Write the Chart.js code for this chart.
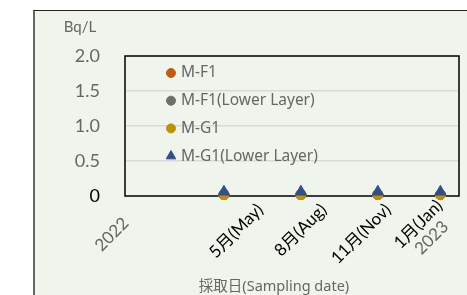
<!DOCTYPE html>
<html>
<head>
<meta charset="utf-8">
<script src="https://cdn.jsdelivr.net/npm/chart.js@4.4.0/dist/chart.umd.min.js"></script>
<style>
  html, body { margin: 0; padding: 0; background: #fff; }
  #card {
    position: absolute; left: 33px; top: 10px; width: 440px; height: 300px;
    background: #eff4ec; border-left: 2px solid #666; border-top: 1px solid #222;
  }
  #wrap { position: absolute; left: 0; top: 0; width: 467px; height: 295px; }
</style>
</head>
<body>
<div id="card"></div>
<div id="wrap"><canvas id="chart" width="467" height="295"></canvas></div>
<script>
// 採取日 (2022/1/1 からの日数, 目安)
const sampleDays = [135, 226, 317, 391];

const seriesNames = ['M-F1', 'M-F1(Lower Layer)', 'M-G1', 'M-G1(Lower Layer)'];
const mF1 = [0.02, 0.02, 0.02, 0.02];
const mF1Lower = [0.02, 0.02, 0.02, 0.02];
const mG1 = [0.02, 0.02, 0.02, 0.02];
const mG1Lower = [0.06, 0.06, 0.06, 0.06];

// 横軸の目盛
const tickDays = [3, 178, 253, 329, 390];
const tickMonths = ['', '5月(May)', '8月(Aug)', '11月(Nov)', '1月(Jan)'];
const tickYears = ['2022', '', '', '', '2023'];

const yTicks = [0, 0.5, 1.0, 1.5, 2.0];

const fontFamily = 'Lato, "Noto Sans CJK JP", sans-serif';
const wideFont = '"Noto Sans", "Noto Sans CJK JP", sans-serif';
const grayText = '#666666';

function toPoints(values) {
    return values.map((v, i) => ({ x: sampleDays[i], y: v }));
}

// 凡例・軸ラベル・枠線
const extras = {
    id: 'extras',
    beforeDatasetsDraw(chart) {
        const ctx = chart.ctx;
        const area = chart.chartArea;
        ctx.save();
        ctx.strokeStyle = '#000';
        ctx.lineWidth = 1.5;
        ctx.strokeRect(area.left, area.top, area.right - area.left, area.bottom - area.top);
        ctx.restore();
    },
    afterDatasetsDraw(chart) {
        const ctx = chart.ctx;
        const area = chart.chartArea;
        const xScale = chart.scales.x;
        ctx.save();

        // 凡例
        ctx.textBaseline = 'middle';
        ctx.textAlign = 'left';
        ctx.font = '15.5px ' + wideFont;
        chart.data.datasets.forEach((ds, i) => {
            const y = area.top + 17 + i * 27.7;
            const x = area.left + 46;
            ctx.fillStyle = ds.backgroundColor;
            ctx.strokeStyle = ds.borderColor;
            Chart.helpers.drawPoint(ctx, {
                pointStyle: ds.pointStyle,
                radius: ds.pointStyle === 'triangle' ? 5.5 : 4.5,
                rotation: 0,
                borderWidth: 1
            }, x, y);
            ctx.fillStyle = grayText;
            ctx.fillText(ds.label, x + 10, y);
        });

        // 横軸ラベル (斜め)
        tickDays.forEach((d, i) => {
            const px = xScale.getPixelForValue(d);
            const twoLines = tickMonths[i] && tickYears[i];
            const py = area.bottom + 11 - (twoLines ? 4 : 0);
            ctx.save();
            ctx.translate(px, py);
            ctx.rotate(-Math.PI / 4);
            ctx.textBaseline = 'middle';
            let w = 0;
            if (tickMonths[i]) {
                ctx.font = '17px ' + fontFamily;
                ctx.fillStyle = '#000';
                ctx.textAlign = 'right';
                ctx.fillText(tickMonths[i], 0, 0);
                w = ctx.measureText(tickMonths[i]).width;
            }
            if (tickYears[i]) {
                ctx.font = '17px ' + fontFamily;
                ctx.fillStyle = grayText;
                if (w) {
                    ctx.textAlign = 'center';
                    ctx.fillText(tickYears[i], -w / 2, 19);
                } else {
                    ctx.textAlign = 'right';
                    ctx.fillText(tickYears[i], 0, 19);
                }
            }
            ctx.restore();
        });

        // 単位
        ctx.font = '15px ' + fontFamily;
        ctx.fillStyle = grayText;
        ctx.textAlign = 'center';
        ctx.fillText('Bq/L', area.left - 45, area.top - 29);

        // 横軸タイトル
        ctx.font = '14.5px ' + wideFont;
        ctx.fillText('採取日(Sampling date)', area.left + 149, area.bottom + 91);

        ctx.restore();
    }
};

const ctx = document.getElementById('chart').getContext('2d');
const chart = new Chart(ctx, {
    type: 'scatter',
    data: {
        datasets: [
            {
                label: seriesNames[0],
                data: toPoints(mF1),
                backgroundColor: '#c55a11',
                borderColor: '#c55a11',
                pointStyle: 'circle',
                pointRadius: 5,
                clip: false,
                order: 3
            },
            {
                label: seriesNames[1],
                data: toPoints(mF1Lower),
                backgroundColor: '#6e6e6e',
                borderColor: '#6e6e6e',
                pointStyle: 'circle',
                pointRadius: 5,
                clip: false,
                order: 2
            },
            {
                label: seriesNames[2],
                data: toPoints(mG1),
                backgroundColor: '#bf9000',
                borderColor: '#bf9000',
                pointStyle: 'circle',
                pointRadius: 5,
                clip: false,
                order: 1
            },
            {
                label: seriesNames[3],
                data: toPoints(mG1Lower),
                backgroundColor: '#2f4f8f',
                borderColor: '#2f4f8f',
                pointStyle: 'triangle',
                pointRadius: 6.5,
                clip: false,
                order: 0
            }
        ]
    },
    options: {
        responsive: false,
        animation: false,
        layout: {
            padding: { top: 56, right: 8, left: 0, bottom: 0 }
        },
        plugins: {
            legend: { display: false },
            tooltip: { enabled: false }
        },
        scales: {
            x: {
                type: 'linear',
                min: 18,
                max: 413,
                grid: { display: false },
                border: { display: false },
                ticks: { display: false },
                afterFit: function(scale) { scale.height = 99; }
            },
            y: {
                min: 0,
                max: 2,
                afterBuildTicks: function(scale) {
                    scale.ticks = yTicks.map(v => ({ value: v }));
                },
                ticks: {
                    padding: 25,
                    font: { family: fontFamily, size: 18 },
                    color: c => c.tick.value === 0 ? '#000' : grayText,
                    callback: v => v === 0 ? '0' : v.toFixed(1)
                },
                grid: {
                    drawTicks: false,
                    color: c => (c.tick.value > 0 && c.tick.value < 2) ? '#d9d9d9' : 'rgba(0,0,0,0)',
                    lineWidth: 1.5
                },
                border: { display: false },
                afterFit: function(scale) { scale.width = 125; }
            }
        }
    },
    plugins: [extras]
});
</script>
</body>
</html>
